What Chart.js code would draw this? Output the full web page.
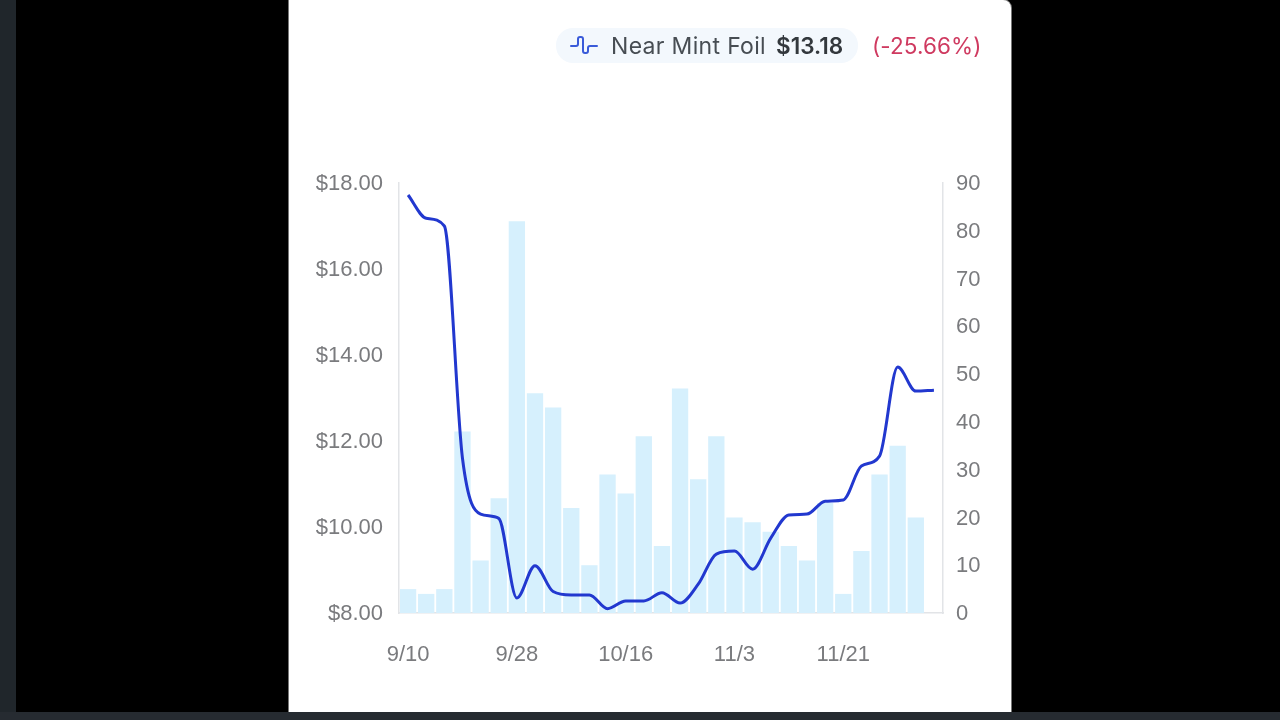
<!DOCTYPE html>
<html>
<head>
<meta charset="utf-8">
<script src="https://cdn.jsdelivr.net/npm/chart.js@4"></script>
<style>
html,body{margin:0;padding:0;width:1280px;height:720px;overflow:hidden;background:#000}
#left{position:absolute;left:0;top:0;width:16px;height:712px;background:#20262b}
#bottom{position:absolute;left:0;top:712px;width:1280px;height:8px;background:#262b31}
#card{position:absolute;left:289px;top:0;width:722px;height:712px;background:#fff;border-radius:0 8px 0 0;box-shadow:0 0 0 1px #777}
#wrap{position:absolute;left:0;top:0;width:722px;height:712px;filter:blur(0.45px)}
#pill{position:absolute;left:267px;top:28px;width:302px;height:35px;border-radius:17px;background:#f3f8fd;filter:blur(0.5px)}
.t{position:absolute;top:30px;line-height:32px;font-family:Inter,"Noto Sans",sans-serif;font-size:22.5px;white-space:nowrap;filter:blur(0.4px)}
svg{position:absolute;left:280px;top:33px;filter:blur(0.3px)}
</style>
</head>
<body>
<div id="left"></div>
<div id="card">
  <div id="wrap"><canvas id="c" width="722" height="712"></canvas></div>
  <div id="pill"></div>
  <svg width="30" height="24" viewBox="0 0 30 24" fill="none" stroke="#3a5bd9" stroke-width="2" stroke-linejoin="round" stroke-linecap="round">
    <path d="M2 13H7Q9 13 9 11V6Q9 4 11 4H12Q14 4 14 6V18Q14 20 16 20H17Q19 20 19 18V15Q19 13 21 13H28"/>
  </svg>
  <div class="t" id="name" style="left:322px;color:#474d53;font-size:23px;letter-spacing:0.32px;">Near Mint Foil</div>
  <div class="t" id="price" style="left:487px;color:#33383d;font-weight:600;">$13.18</div>
  <div class="t" id="pct" style="left:583px;color:#cf3a60;letter-spacing:0.1px;">(-25.66%)</div>
</div>
<div id="bottom"></div>
<script>
const categories = ["9/10","9/13","9/16","9/19","9/22","9/25","9/28","10/1","10/4","10/7","10/10","10/13","10/16","10/19","10/22","10/25","10/28","10/31","11/3","11/6","11/9","11/12","11/15","11/18","11/21","11/24","11/27","11/30","12/3","12/6"];
const priceValues = [17.72,17.18,17.0,11.6,10.3,10.2,8.35,9.1,8.5,8.42,8.42,8.1,8.28,8.28,8.47,8.23,8.67,9.37,9.44,9.02,9.74,10.28,10.3,10.6,10.63,11.42,11.65,13.72,13.16,13.18];
const volumeValues = [5,4,5,38,11,24,82,46,43,22,10,29,25,37,14,47,28,37,20,19,17,14,11,23,4,13,29,35,20,0];
const priceTicks = [8,10,12,14,16,18];
const volumeTicks = [0,10,20,30,40,50,60,70,80,90];

const tickFont = {family:'"Liberation Sans", Arial, sans-serif', size:22};
const yTickFont = {family:'"Liberation Sans", Arial, sans-serif', size:22, lineHeight:'2px'};
const tickColor = '#7a7b7e';
const axisColor = '#e2e4e7';

new Chart(document.getElementById('c'), {
  data: {
    labels: categories,
    datasets: [
      {type:'line', label:'Near Mint Foil', data:priceValues, yAxisID:'y', borderColor:'#2238cf', borderWidth:3, pointRadius:0, cubicInterpolationMode:'monotone', order:1},
      {type:'bar', label:'Volume', data:volumeValues, yAxisID:'y1', backgroundColor:'#d6f0fd', categoryPercentage:1, barPercentage:0.9, order:2}
    ]
  },
  options: {
    responsive:false,
    animation:false,
    layout:{padding:{top:183,left:0,right:0,bottom:0}},
    plugins:{legend:{display:false},tooltip:{enabled:false}},
    scales:{
      x:{
        offset:true,
        grid:{display:false,drawTicks:false},
        border:{color:axisColor,width:1.5},
        afterFit(s){s.height=99;},
        ticks:{autoSkip:false,maxRotation:0,minRotation:0,padding:29,color:tickColor,font:tickFont,
          callback(v,i){return i%6===0?categories[i]:'';}}
      },
      y:{
        position:'left',min:8,max:18,
        grid:{display:false,drawTicks:false},
        border:{color:axisColor,width:1.5},
        afterFit(s){s.width=110;},
        afterBuildTicks(s){s.ticks=priceTicks.map(v=>({value:v}));},
        ticks:{padding:16,color:tickColor,font:yTickFont,callback:v=>['','$'+v.toFixed(2)]}
      },
      y1:{
        position:'right',min:0,max:90,
        grid:{display:false,drawTicks:false},
        border:{color:axisColor,width:1.5},
        afterFit(s){s.width=68;},
        afterBuildTicks(s){s.ticks=volumeTicks.map(v=>({value:v}));},
        ticks:{padding:13,color:tickColor,font:yTickFont,callback:v=>['',String(v)]}
      }
    }
  }
});
</script>
</body>
</html>
